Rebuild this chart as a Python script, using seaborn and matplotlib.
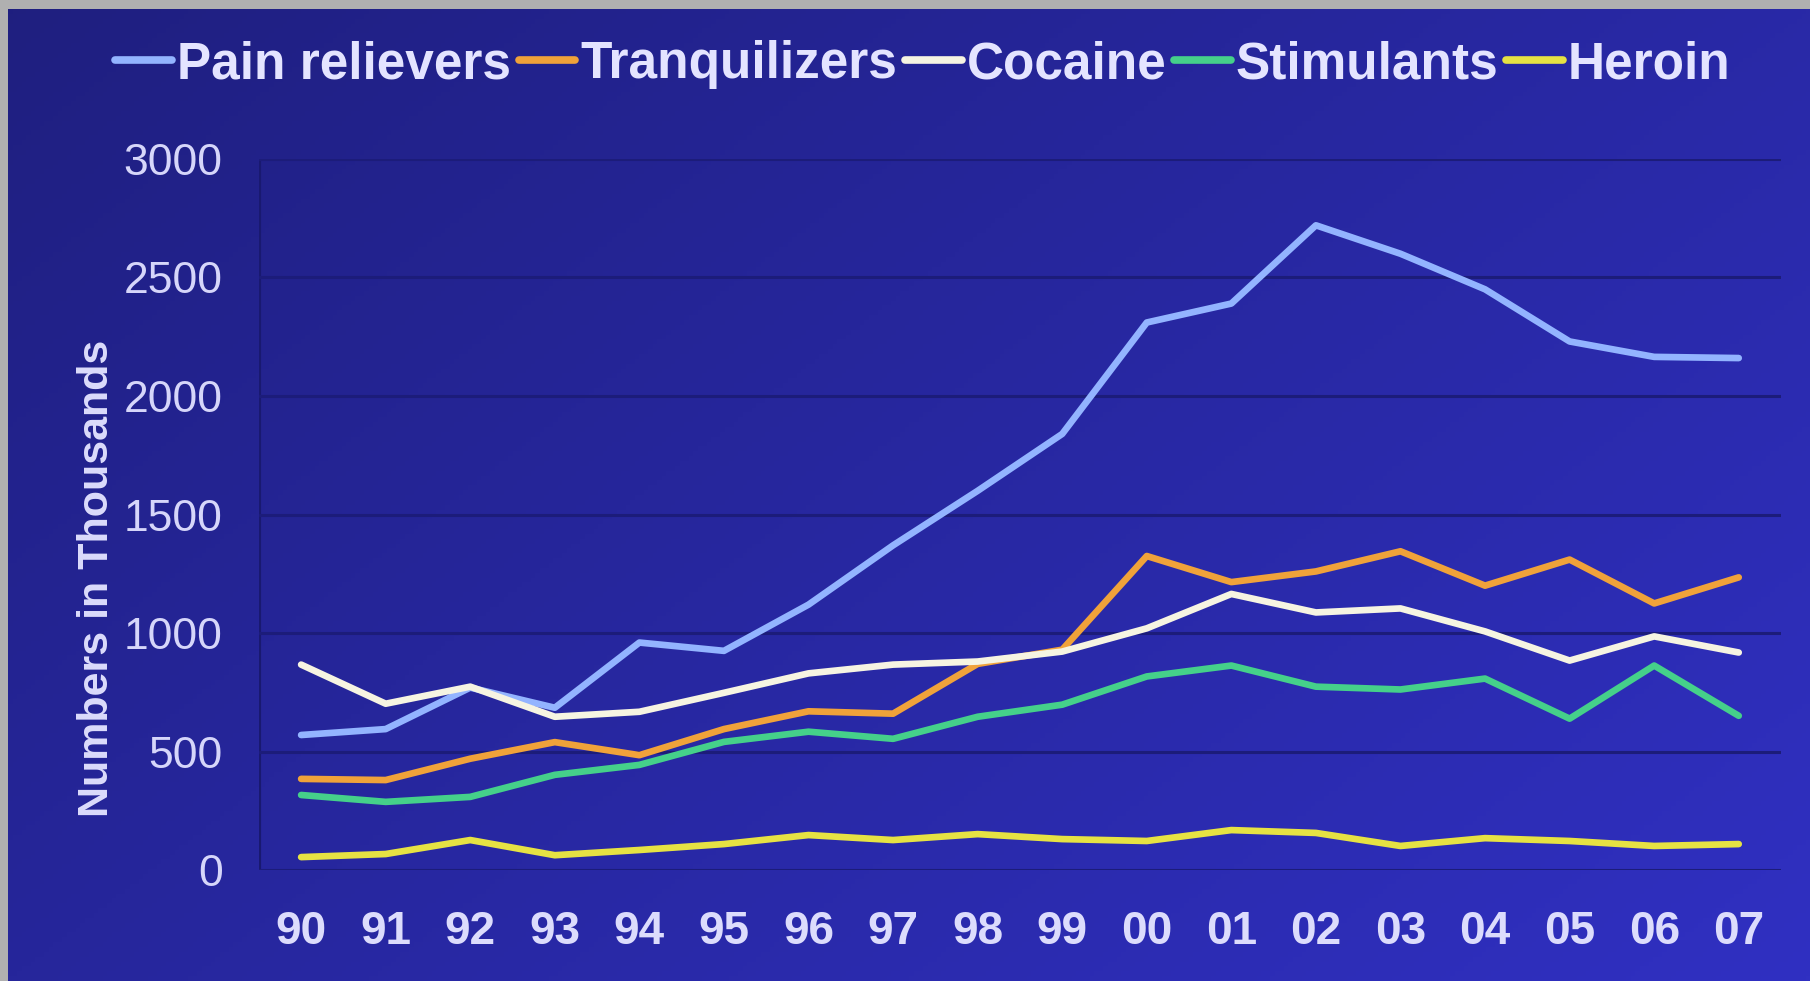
import numpy as np
import pandas as pd
import matplotlib
matplotlib.use("Agg")
import matplotlib.pyplot as plt
from matplotlib.lines import Line2D
import seaborn as sns

years = ["90", "91", "92", "93", "94", "95", "96", "97", "98", "99",
         "00", "01", "02", "03", "04", "05", "06", "07"]
pain_relievers = [570, 595, 770, 685, 960, 925, 1120, 1370, 1600, 1840,
                  2310, 2390, 2720, 2600, 2450, 2230, 2165, 2160]
tranquilizers = [385, 380, 470, 540, 485, 595, 670, 660, 870, 930,
                 1325, 1215, 1260, 1345, 1200, 1310, 1125, 1235]
cocaine = [867, 702, 774, 647, 668, 748, 830, 867, 880, 922,
           1020, 1165, 1087, 1104, 1007, 884, 986, 918]
stimulants = [317, 288, 309, 402, 444, 541, 584, 554, 647, 698,
              817, 863, 774, 762, 808, 639, 863, 651]
heroin = [55, 68, 127, 63, 85, 110, 148, 127, 152, 131,
          123, 169, 157, 102, 135, 123, 102, 110]
y_ticks = [0, 500, 1000, 1500, 2000, 2500, 3000]

series_names = ["Pain relievers", "Tranquilizers", "Cocaine", "Stimulants", "Heroin"]
series_values = [pain_relievers, tranquilizers, cocaine, stimulants, heroin]
colors = ["#93b4ff", "#f0a23a", "#f6f4e2", "#45d08a", "#e6e243"]

rows = []
for name, vals in zip(series_names, series_values):
    for i, v in enumerate(vals):
        rows.append({"idx": i, "value": v, "drug": name})
df = pd.DataFrame(rows)

sns.set_theme(style="white")
plt.rcParams["font.family"] = ["Liberation Sans", "DejaVu Sans"]

fig = plt.figure(figsize=(18.1, 9.81), dpi=100)
fig.patch.set_facecolor("#b0b0b0")

# background gradient panel
bg = fig.add_axes([0, 0, 1, 1], zorder=-5)
bg.set_axis_off()
h, w = 200, 400
xx = np.linspace(0, 1, w)[None, :]
yy = np.linspace(0, 1, h)[:, None]
c_dark = np.array([0x1c, 0x1c, 0x74]) / 255.0
c_light = np.array([0x30, 0x30, 0xc2]) / 255.0
t = np.clip(0.15 + 0.5 * xx + 0.35 * yy, 0, 1)[..., None]
img = c_dark * (1 - t) + c_light * t
bg.imshow(img, extent=[8 / 1810, 1, 0, 1 - 9 / 981], aspect="auto",
          origin="upper", transform=bg.transAxes)
bg.set_xlim(0, 1)
bg.set_ylim(0, 1)

ax = fig.add_axes([0.143, 0.113, 0.841, 0.725])
ax.patch.set_alpha(0.0)

sns.lineplot(data=df, x="idx", y="value", hue="drug", palette=colors,
             hue_order=series_names, linewidth=4.8, sort=False,
             legend=False, ax=ax)
for ln in ax.lines:
    ln.set_solid_capstyle("round")
    ln.set_solid_joinstyle("round")

ax.set_xlim(-0.5, len(years) - 0.5)
ax.set_ylim(0, 3000)
ax.set_yticks(y_ticks)
ax.set_yticklabels([str(v) for v in y_ticks], fontsize=32, color="#d6d6fa")
ax.set_xticks(range(len(years)))
ax.set_xticklabels(years, fontsize=33, fontweight="bold", color="#dcdcfc")
ax.tick_params(axis="both", length=0)
ax.tick_params(axis="y", pad=26)
ax.tick_params(axis="x", pad=29)
for s in ax.spines.values():
    s.set_visible(False)
ax.axvline(-0.5, color="#191970", lw=3, zorder=0)
ax.yaxis.grid(True, color="#1c1c7a", lw=2.2)
ax.xaxis.grid(False)
ax.set_axisbelow(True)
ax.set_xlabel("")
ax.set_ylabel("Numbers in Thousands", fontsize=31, fontweight="bold",
              color="#dcdcfc")
ax.yaxis.set_label_coords(-0.093, 0.41)

handles = [Line2D([0], [0], color=c, lw=5.5) for c in colors]
leg = fig.legend(handles, series_names, loc="center", bbox_to_anchor=(0.51, 0.934),
                 ncol=5, frameon=False, handlelength=1.1, handletextpad=0.1,
                 columnspacing=0.15,
                 prop={"size": 37, "weight": "bold", "family": ["Liberation Sans", "DejaVu Sans"]})
for txt in leg.get_texts():
    txt.set_color("#e4e4ff")

fig.savefig("out.png", dpi=100, facecolor=fig.get_facecolor())
